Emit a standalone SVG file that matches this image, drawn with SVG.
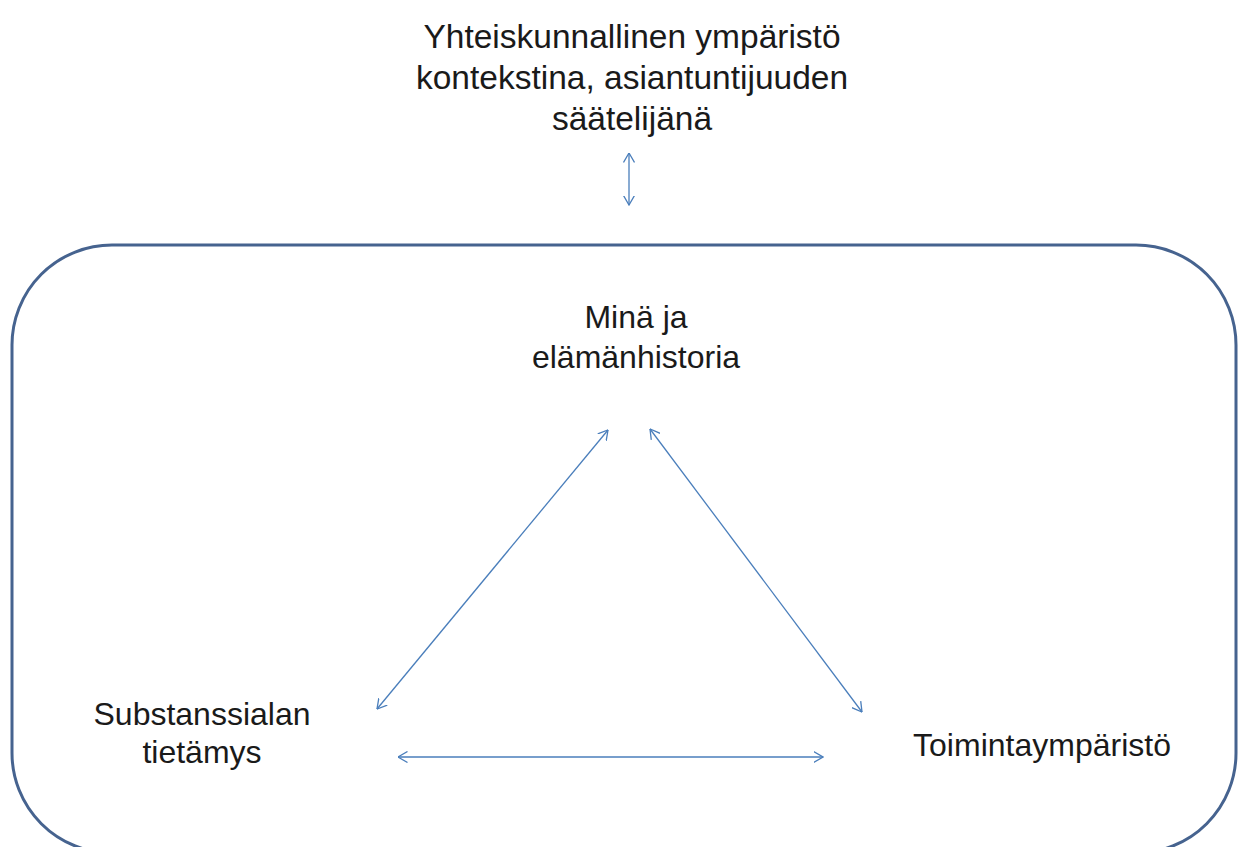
<svg xmlns="http://www.w3.org/2000/svg" width="1238" height="847" viewBox="0 0 1238 847">
<defs>
<style>
.t{font-family:"Liberation Sans","Noto Sans",Arial,sans-serif;font-size:32px;fill:#1a1a1a;text-anchor:middle}
.h{font-size:33.5px}
.c{stroke:#4a7ebb;stroke-width:1.3;fill:none;marker-start:url(#ah);marker-end:url(#ah)}
</style>
<marker id="ah" viewBox="0 0 10 12" refX="9.5" refY="6" markerWidth="10" markerHeight="12" markerUnits="userSpaceOnUse" orient="auto-start-reverse">
<path d="M0,0.5 L9.5,6 L0,11.5" fill="none" stroke="#4a7ebb" stroke-width="1.3"/>
</marker>
</defs>
<rect x="0" y="0" width="1238" height="847" fill="#ffffff"/>
<g id="context">
<text class="t h" x="632" y="48">Yhteiskunnallinen ympäristö</text>
<text class="t h" x="632" y="89">kontekstina, asiantuntijuuden</text>
<text class="t h" x="632" y="130">säätelijänä</text>
</g>
<g id="frame">
<rect x="12" y="245" width="1224" height="608" rx="100" ry="100" fill="none" stroke="#46638f" stroke-width="3"/>
</g>
<g id="mina">
<text class="t" x="636" y="328">Minä ja</text>
<text class="t" x="636" y="368">elämänhistoria</text>
</g>
<g id="substanssi">
<text class="t" x="202" y="725">Substanssialan</text>
<text class="t" x="202" y="763">tietämys</text>
</g>
<g id="toiminta">
<text class="t" x="1042" y="756">Toimintaympäristö</text>
</g>
<g id="connectors">
<line class="c" x1="629" y1="153" x2="629" y2="205"/>
<line class="c" x1="608" y1="430" x2="377" y2="709"/>
<line class="c" x1="650" y1="429" x2="862" y2="712"/>
<line class="c" x1="398" y1="757" x2="823" y2="757"/>
</g>
</svg>
